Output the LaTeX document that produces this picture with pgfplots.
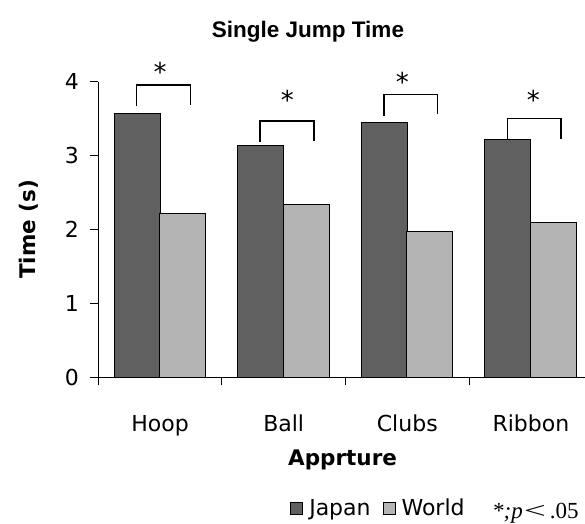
\documentclass[border=0pt]{standalone}
\usepackage{fontspec}
\setmainfont{DejaVu Sans}
\newfontfamily\titlefont{Liberation Sans}
\newfontfamily\serifp{Liberation Serif}
\usepackage{graphicx}
\usepackage{pgfplots}
\pgfplotsset{compat=1.18}
\definecolor{japan}{RGB}{96,96,96}
\definecolor{world}{RGB}{180,180,180}
\begin{document}
\begin{tikzpicture}
\path[use as bounding box] (-98.3pt,-145.7pt) rectangle (486.7pt,377.3pt);
\begin{axis}[
  scale only axis,
  width=494.4pt, height=295.6pt,
  xmin=-0.5, xmax=3.5, ymin=0, ymax=4,
  clip=false,
  axis x line*=bottom, axis y line*=left,
  axis line style={-, line width=1.1pt},
  tick align=outside,
  major tick length=8pt,
  every tick/.style={black, line width=1.1pt},
  ytick={0,1,2,3,4},
  xtick={-0.5,0.5,1.5,2.5},
  xticklabels={},
  extra x ticks={0,1,2,3},
  extra x tick labels={Hoop,Ball,Clubs,Ribbon},
  extra x tick style={major tick length=0pt, tick style={draw=none},
     xticklabel style={anchor=base, yshift=-53.7pt}},
  /pgf/number format/assume math mode=true,
  tick label style={font=\fontsize{22}{24}\selectfont},
  yticklabel style={xshift=-8pt},
  xlabel={Apprture},
  xlabel style={font=\bfseries\fontsize{21.5}{24}\selectfont, at={(axis description cs:0.494,-0.297)}, anchor=base},
  ylabel={Time (s)},
  ylabel style={font=\bfseries\fontsize{21.5}{24}\selectfont, at={(axis description cs:-0.14,0.5)}, anchor=center},
  title={Single Jump Time},
  title style={font=\titlefont\bfseries\fontsize{22.5}{26}\selectfont, at={(axis description cs:0.424,1.13)}, anchor=base},
  legend columns=2,
  legend style={draw=none, fill=none, at={(axis description cs:0.382,-0.442)}, anchor=west,
    font=\fontsize{22}{24}\selectfont,
    /tikz/every even column/.append style={column sep=10pt}},
  legend image code/.code={\draw[#1] (0pt,-6pt) rectangle (12pt,6pt); \path (16pt,0pt);},
]
\addplot[ybar, bar width=46pt, bar shift=-23pt, fill=japan, draw=black, line width=0.9pt]
  coordinates {(0,3.57) (1,3.14) (2,3.45) (3,3.22)};
\addlegendentry{Japan}
\addplot[ybar, bar width=46pt, bar shift=22.5pt, fill=world, draw=black, line width=0.9pt]
  coordinates {(0,2.22) (1,2.34) (2,1.97) (3,2.10)};
\addlegendentry{World}
% significance brackets
\addplot[forget plot, black, line width=1.5pt] coordinates {(-0.19,3.67) (-0.19,3.955) (0.245,3.955) (0.245,3.69)};
\addplot[forget plot, black, line width=1.5pt] coordinates {(0.81,3.18) (0.81,3.47) (1.245,3.47) (1.245,3.20)};
\addplot[forget plot, black, line width=1.5pt] coordinates {(1.81,3.54) (1.81,3.83) (2.245,3.83) (2.245,3.56)};
\addplot[forget plot, black, line width=1.5pt] coordinates {(2.81,3.22) (2.81,3.50) (3.245,3.50) (3.245,3.23)};
\addplot[forget plot, draw=none, nodes near coords, point meta=explicit symbolic,
  nodes near coords style={anchor=center, font=\fontsize{26}{28}\selectfont}]
  coordinates {(0.0,4.13) [*] (1.03,3.75) [*] (1.96,4.0) [*] (3.02,3.76) [*]};
\node[anchor=base, font=\serifp\fontsize{23}{25}\selectfont] at (axis description cs:0.884,-0.476) {\textit{*;p}\kern1pt\scalebox{1.7}[1]{<}\kern4pt.05};
\end{axis}
\end{tikzpicture}
\end{document}
